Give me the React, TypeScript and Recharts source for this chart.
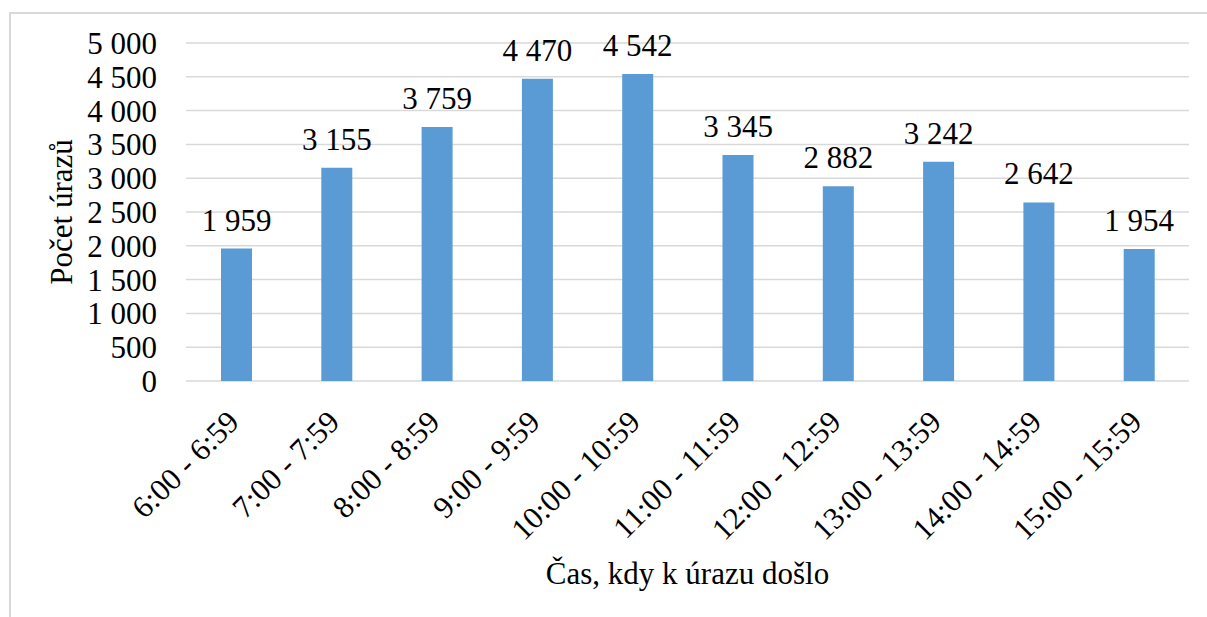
import { Bar, BarChart, CartesianGrid, LabelList, XAxis, YAxis } from "recharts";

const categories = [
  "6:00 - 6:59",
  "7:00 - 7:59",
  "8:00 - 8:59",
  "9:00 - 9:59",
  "10:00 - 10:59",
  "11:00 - 11:59",
  "12:00 - 12:59",
  "13:00 - 13:59",
  "14:00 - 14:59",
  "15:00 - 15:59",
];

const injuries = [1959, 3155, 3759, 4470, 4542, 3345, 2882, 3242, 2642, 1954];

const yTicks = [0, 500, 1000, 1500, 2000, 2500, 3000, 3500, 4000, 4500, 5000];

const data = categories.map((label, i) => ({ label, value: injuries[i] }));

const FONT = '"Liberation Serif", "Times New Roman", serif';
const FONT_SIZE = 31;

// thousands split by a space, non-breaking so Recharts does not wrap it
function spaced(value: unknown) {
  return String(Number(value || 0)).replace(/\B(?=(\d{3})+(?!\d))/g, "\u00a0");
}

function RotatedTick({ x, y, payload }: { x?: number; y?: number; payload?: { value: string } }) {
  return (
    <g transform={`translate(${Number(x) - 3},${Number(y)})`}>
      <text
        textAnchor="end"
        transform="rotate(-45)"
        dy="0.35em"
        fill="#000"
        style={{ fontFamily: FONT, fontSize: FONT_SIZE }}
      >
        {payload?.value}
      </text>
    </g>
  );
}

export default function App() {
  return (
    <div
      style={{
        position: "absolute",
        left: 0,
        top: 0,
        width: 1207,
        height: 617,
        overflow: "hidden",
        background: "#fff",
        fontFamily: FONT,
      }}
    >
      <div
        style={{
          position: "absolute",
          left: 9,
          top: 12,
          width: 1260,
          height: 680,
          border: "2px solid #d9d9d9",
        }}
      />
      <div style={{ position: "absolute", left: 0, top: 0 }}>
        <BarChart
          width={1207}
          height={617}
          data={data}
          margin={{ top: 43, right: 18, left: 66, bottom: 0 }}
          style={{ fontFamily: FONT }}
        >
          <CartesianGrid vertical={false} stroke="#d9d9d9" strokeWidth={1.5} />
          <XAxis
            dataKey="label"
            height={236}
            axisLine={false}
            tickLine={false}
            tickSize={0}
            tickMargin={35}
            interval={0}
            tick={<RotatedTick />}
            label={{
              value: "Čas, kdy k úrazu došlo",
              position: "insideBottom",
              offset: 33,
              fill: "#000",
              fontFamily: FONT,
              fontSize: FONT_SIZE,
            }}
          />
          <YAxis
            width={120}
            domain={[0, 5000]}
            ticks={yTicks}
            interval={0}
            axisLine={false}
            tickLine={false}
            tickMargin={23}
            tickFormatter={spaced}
            tick={{ fill: "#000", fontFamily: FONT, fontSize: FONT_SIZE }}
            label={{
              value: "Počet úrazů",
              angle: -90,
              position: "center",
              dx: -65,
              fill: "#000",
              fontFamily: FONT,
              fontSize: FONT_SIZE,
            }}
          />
          <Bar dataKey="value" fill="#5b9bd5" barSize={31} isAnimationActive={false}>
            <LabelList
              dataKey="value"
              position="top"
              offset={18}
              formatter={spaced}
              fill="#000"
              fontFamily={FONT}
              fontSize={FONT_SIZE}
            />
          </Bar>
        </BarChart>
      </div>
    </div>
  );
}
